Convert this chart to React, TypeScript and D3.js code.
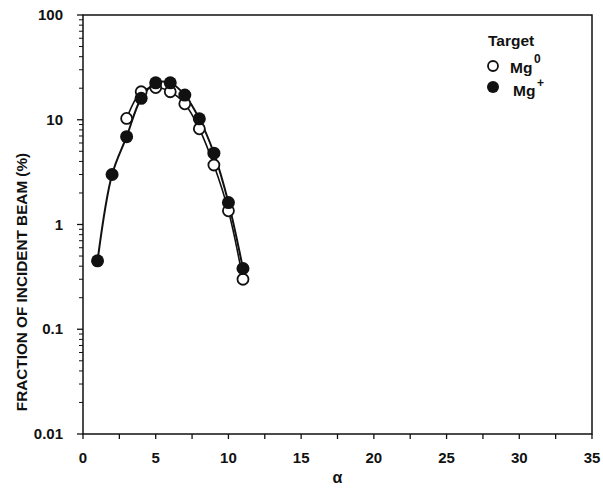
import * as d3 from "d3";

// charge-state distribution, alpha = charge state
const alphaPlus = [1, 2, 3, 4, 5, 6, 7, 8, 9, 10, 11];
const mgPlus = [0.45, 3.0, 6.9, 16, 22.5, 22.5, 17.2, 10.2, 4.8, 1.62, 0.38];
const alphaZero = [3, 4, 5, 6, 7, 8, 9, 10, 11];
const mgZero = [10.3, 18.5, 20.3, 18.5, 14.2, 8.2, 3.7, 1.35, 0.3];

const xTicks = [0, 5, 10, 15, 20, 25, 30, 35];
const yTicks = [0.01, 0.1, 1, 10, 100];
const yTickLabels = ["0.01", "0.1", "1", "10", "100"];

const width = 603;
const height = 489;
const margin = { top: 15, right: 11, bottom: 55, left: 83 };
const font = "'Liberation Sans', Arial, Helvetica, sans-serif";

export default function App() {
  let x = d3.scaleLinear().domain([0, 35]).range([margin.left, width - margin.right]);
  let y = d3.scaleLog().domain([0.01, 100]).range([height - margin.bottom, margin.top]);

  let minorX = d3.range(0, 35.01, 2.5);
  let minorY: number[] = [];
  for (let dec = 0.01; dec < 100; dec *= 10) {
    for (let k = 2; k <= 9; k++) minorY.push(+(dec * k).toPrecision(3));
  }

  let lineGen = d3
    .line<[number, number]>()
    .x((d) => x(d[0]))
    .y((d) => y(d[1]))
    .curve(d3.curveCatmullRom.alpha(0.5));

  let plusPts = alphaPlus.map((a, i) => [a, mgPlus[i]] as [number, number]);
  let zeroPts = alphaZero.map((a, i) => [a, mgZero[i]] as [number, number]);

  let x0 = x(0);
  let x1 = x(35);
  let y0 = y(0.01);
  let y1 = y(100);

  return (
    <svg width={width} height={height} style={{ position: "absolute", left: 0, top: 0 }} fontFamily={font} fontWeight="bold">
      {/* frame */}
      <rect x={x0} y={y1} width={x1 - x0} height={y0 - y1} fill="none" stroke="#111" strokeWidth={1.5} />

      {/* x ticks */}
      {minorX.map((t) => (
        <line key={"xt" + t} x1={x(t)} x2={x(t)} y1={y0} y2={y0 + 5} stroke="#111" strokeWidth={1.3} />
      ))}
      {xTicks.map((t) => (
        <text key={"xl" + t} x={x(t)} y={y0 + 29} textAnchor="middle" fontSize={15} fill="#111">
          {t}
        </text>
      ))}

      {/* y ticks */}
      {minorY.map((t) => (
        <line key={"ym" + t} x1={x0 - 4} x2={x0} y1={y(t)} y2={y(t)} stroke="#111" strokeWidth={1} />
      ))}
      {yTicks.map((t, i) => (
        <g key={"yl" + t}>
          <line x1={x0 - 6} x2={x0} y1={y(t)} y2={y(t)} stroke="#111" strokeWidth={1.3} />
          <text x={x0 - 20} y={y(t) + 5} textAnchor="end" fontSize={15} fill="#111">
            {yTickLabels[i]}
          </text>
        </g>
      ))}

      {/* axis titles */}
      <text x={(x0 + x1) / 2} y={483} textAnchor="middle" fontSize={16} fill="#111">
        α
      </text>
      <text transform="translate(27,282) rotate(-90)" textAnchor="middle" fontSize={15.3} fill="#111">
        FRACTION OF INCIDENT BEAM (%)
      </text>

      {/* curves */}
      <path d={lineGen(zeroPts) ?? ""} fill="none" stroke="#111" strokeWidth={1.6} />
      <path d={lineGen(plusPts) ?? ""} fill="none" stroke="#111" strokeWidth={2} />

      {/* markers */}
      {zeroPts.map((d, i) => (
        <circle key={"oz" + i} cx={x(d[0])} cy={y(d[1])} r={5.5} fill="#fff" stroke="#111" strokeWidth={1.8} />
      ))}
      {plusPts.map((d, i) => (
        <circle key={"fp" + i} cx={x(d[0])} cy={y(d[1])} r={6.5} fill="#111" />
      ))}

      {/* legend */}
      <text x={488} y={46} fontSize={15.5} fill="#111">
        Target
      </text>
      <circle cx={493} cy={66} r={5} fill="#fff" stroke="#111" strokeWidth={1.8} />
      <text x={510} y={73} fontSize={15.5} fill="#111">
        Mg
      </text>
      <text x={534} y={63} fontSize={12} fill="#111">
        0
      </text>
      <circle cx={493} cy={87} r={6} fill="#111" />
      <text x={513} y={96} fontSize={15.5} fill="#111">
        Mg
      </text>
      <text x={537} y={87} fontSize={12} fill="#111">
        +
      </text>
    </svg>
  );
}
